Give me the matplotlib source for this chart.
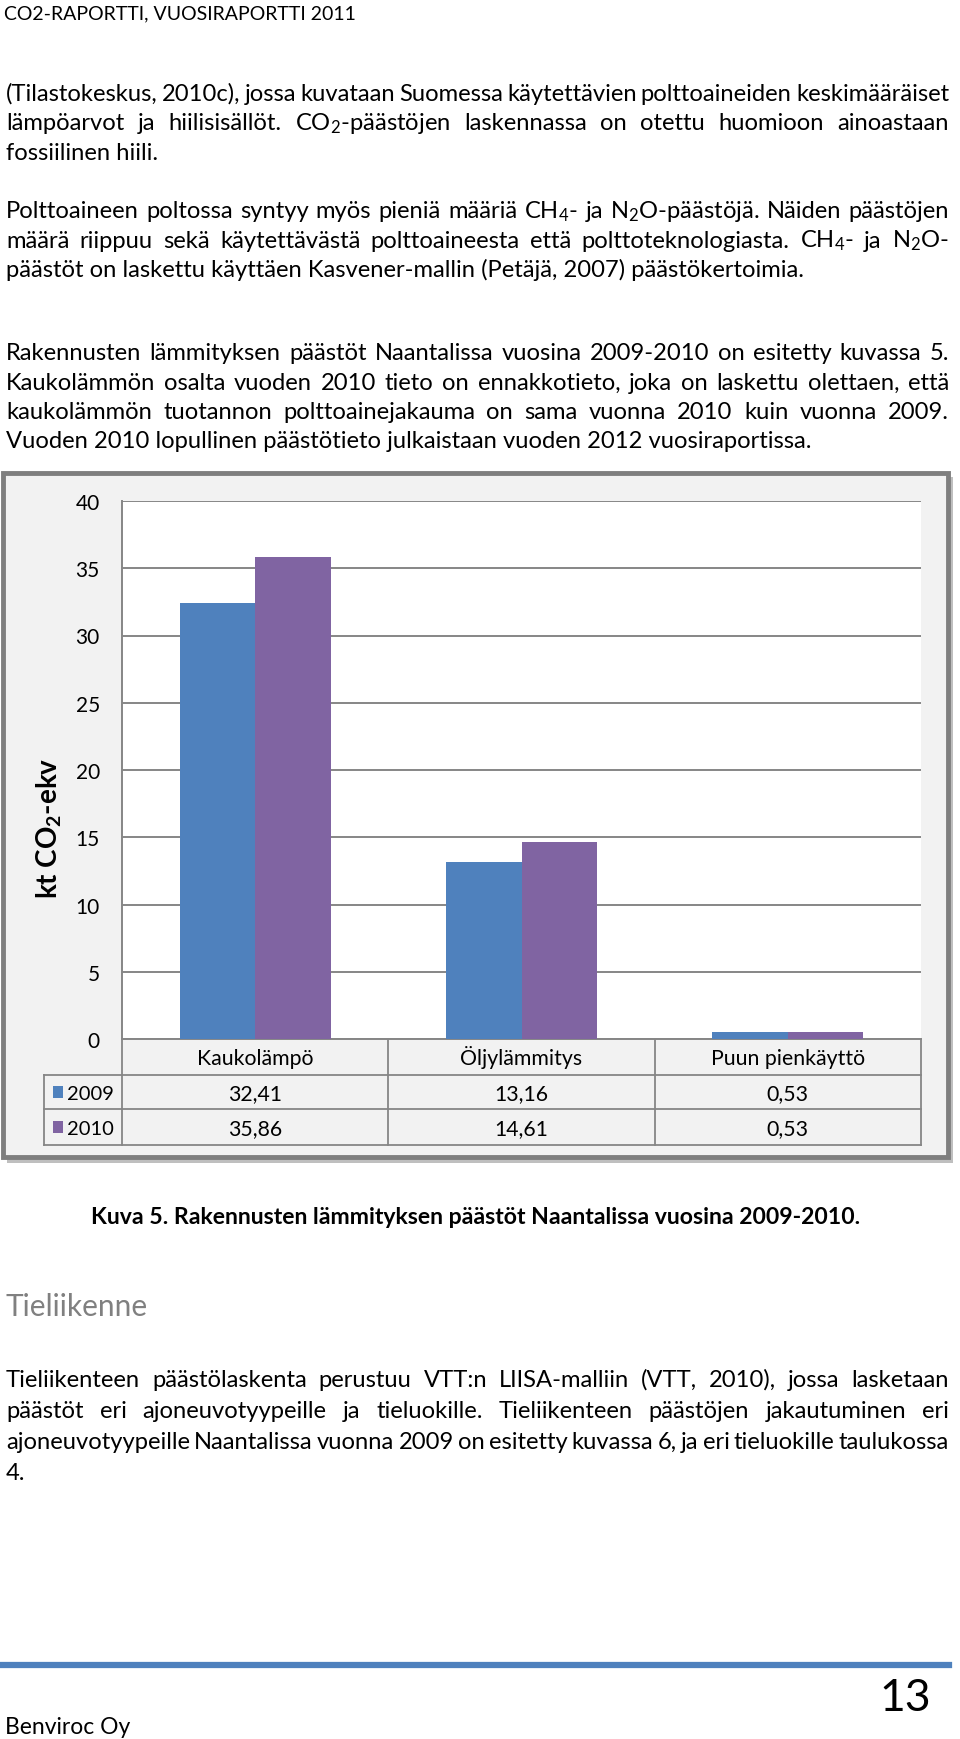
import matplotlib
matplotlib.use('Agg')
import matplotlib.pyplot as plt
import matplotlib.transforms as mtransforms
from matplotlib.patches import Rectangle
from matplotlib.lines import Line2D
import numpy as np

# data
categories = ['Kaukolämpö', 'Öljylämmitys', 'Puun pienkäyttö']
years = ['2009', '2010']
values_2009 = [32.41, 13.16, 0.53]
values_2010 = [35.86, 14.61, 0.53]
yticks = [0, 5, 10, 15, 20, 25, 30, 35, 40]
colors = ['#4F81BD', '#8064A2']

header = 'CO2-RAPORTTI, VUOSIRAPORTTI 2011'
para1 = [
    ('(Tilastokeskus, 2010c), jossa kuvataan Suomessa käytettävien polttoaineiden keskimääräiset', True),
    ('lämpöarvot ja hiilisisällöt. CO$_2$-päästöjen laskennassa on otettu huomioon ainoastaan', True),
    ('fossiilinen hiili.', False),
]
para2 = [
    ('Polttoaineen poltossa syntyy myös pieniä määriä CH$_4$- ja N$_2$O-päästöjä. Näiden päästöjen', True),
    ('määrä riippuu sekä käytettävästä polttoaineesta että polttoteknologiasta. CH$_4$- ja N$_2$O-', True),
    ('päästöt on laskettu käyttäen Kasvener-mallin (Petäjä, 2007) päästökertoimia.', False),
]
para3 = [
    ('Rakennusten lämmityksen päästöt Naantalissa vuosina 2009-2010 on esitetty kuvassa 5.', True),
    ('Kaukolämmön osalta vuoden 2010 tieto on ennakkotieto, joka on laskettu olettaen, että', True),
    ('kaukolämmön tuotannon polttoainejakauma on sama vuonna 2010 kuin vuonna 2009.', True),
    ('Vuoden 2010 lopullinen päästötieto julkaistaan vuoden 2012 vuosiraportissa.', False),
]
caption = 'Kuva 5. Rakennusten lämmityksen päästöt Naantalissa vuosina 2009-2010.'
heading = 'Tieliikenne'
para4 = [
    ('Tieliikenteen päästölaskenta perustuu VTT:n LIISA-malliin (VTT, 2010), jossa lasketaan', True),
    ('päästöt eri ajoneuvotyypeille ja tieluokille. Tieliikenteen päästöjen jakautuminen eri', True),
    ('ajoneuvotyypeille Naantalissa vuonna 2009 on esitetty kuvassa 6, ja eri tieluokille taulukossa', True),
    ('4.', False),
]

plt.rcParams['font.family'] = 'Lato'
plt.rcParams['mathtext.fontset'] = 'custom'
plt.rcParams['mathtext.rm'] = 'Lato'
plt.rcParams['mathtext.it'] = 'Lato:italic'
plt.rcParams['mathtext.bf'] = 'Lato:bold'

W, H = 960, 1740
fig = plt.figure(figsize=(W / 100, H / 100), dpi=100)
fig.patch.set_facecolor('white')
renderer = fig.canvas.get_renderer()


def fx(x):
    return x / W


def fy(y):
    return 1 - y / H


BODY = 17.1
X0, X1 = 6, 949


def put_line(y, text, justify, size=BODY):
    if not justify:
        fig.text(fx(X0), fy(y), text, fontsize=size, va='baseline')
        return
    words = text.split(' ')
    ts = [fig.text(0, fy(y), w, fontsize=size, va='baseline') for w in words]
    widths = [t.get_window_extent(renderer).width for t in ts]
    gap = (X1 - X0 - sum(widths)) / (len(words) - 1)
    x = X0
    for t, w in zip(ts, widths):
        t.set_x(fx(x))
        x += w + gap


def put_para(y0, lines, step=29.5):
    for i, (txt, j) in enumerate(lines):
        put_line(y0 + i * step, txt, j)


fig.text(fx(4), fy(19), header, fontsize=14, va='baseline')
put_para(101, para1)
put_para(218, para2)
put_para(360, para3)

# chart frame with shadow
fig.patches.append(Rectangle((fx(7), fy(1164)), fx(946), (1164 - 478) / H,
                             transform=fig.transFigure, facecolor='#BFBFBF',
                             edgecolor='none', zorder=0))
fig.patches.append(Rectangle((fx(3), fy(1158)), fx(945), (1158 - 474) / H,
                             transform=fig.transFigure, facecolor='#F2F2F2',
                             edgecolor='#7F7F7F', lw=3.5, zorder=1))

ax = fig.add_axes([fx(122), fy(1040), fx(921) - fx(122), (1040 - 502) / H])
ax.set_zorder(5)
ax.set_facecolor('white')
x = np.arange(len(categories))
bw = 0.283
ax.bar(x - bw / 2, values_2009, bw, color=colors[0], zorder=3)
ax.bar(x + bw / 2, values_2010, bw, color=colors[1], zorder=3)
ax.set_xlim(-0.5, 2.5)
ax.set_ylim(0, 40)
ax.set_yticks(yticks)
ax.set_yticklabels([str(v) for v in yticks], fontsize=15)
ax.set_xticks([])
ax.tick_params(axis='y', length=0, pad=16)
ax.yaxis.grid(True, color='#868686', lw=1.4)
ax.set_axisbelow(True)
for s in ['top', 'right']:
    ax.spines[s].set_visible(False)
for s in ['left', 'bottom']:
    ax.spines[s].set_color('#868686')
    ax.spines[s].set_linewidth(1.4)

ax.set_ylabel('kt CO$_\\mathbf{2}$-ekv', fontsize=20, fontweight='bold')
ax.yaxis.set_label_coords((64 - 122) / (921 - 122), (1040 - 828) / (1040 - 502))

# data table below the axis
tr = mtransforms.blended_transform_factory(ax.transData, fig.transFigure)
px_per_unit = ax.transData.transform((1, 0))[0] - ax.transData.transform((0, 0))[0]
left_data = -0.5 - (122 - 44) / px_per_unit
row_edges = [1040, 1076, 1110, 1146]
gcol = '#868686'
bounds = np.arange(len(categories) + 1) - 0.5
for b in bounds:
    fig.add_artist(Line2D([b, b], [fy(row_edges[0]), fy(row_edges[-1])], transform=tr,
                          color=gcol, lw=1.3))
fig.add_artist(Line2D([left_data, left_data], [fy(row_edges[1]), fy(row_edges[-1])],
                      transform=tr, color=gcol, lw=1.3))
for r in row_edges[1:]:
    fig.add_artist(Line2D([left_data, bounds[-1]], [fy(r), fy(r)], transform=tr,
                          color=gcol, lw=1.3))

TS = 15.3
for i, c in enumerate(categories):
    fig.text(x[i], fy((row_edges[0] + row_edges[1]) / 2 + 7), c, transform=tr,
             ha='center', va='baseline', fontsize=TS)
for k, (yr, vals) in enumerate(zip(years, [values_2009, values_2010])):
    ym = (row_edges[k + 1] + row_edges[k + 2]) / 2
    for i, v in enumerate(vals):
        fig.text(x[i], fy(ym + 7), f'{v:.2f}'.replace('.', ','), transform=tr,
                 ha='center', va='baseline', fontsize=TS)
    fig.text(fx(67), fy(ym + 7), yr, ha='left', va='baseline', fontsize=14.5)
    fig.patches.append(Rectangle((fx(53), fy(ym + 6)), fx(10), 12 / H,
                                 transform=fig.transFigure, facecolor=colors[k],
                                 edgecolor='none', zorder=5))

fig.text(0.5 * (fx(91) + fx(860)), fy(1224), caption, ha='center', va='baseline',
         fontsize=16.6, fontweight='bold')
fig.text(fx(5), fy(1316), heading, va='baseline', fontsize=21.5, color='#808080')
put_para(1387, para4, step=31)

fig.add_artist(Line2D([fx(3), fx(949)], [fy(1666), fy(1666)], color='#4F81BD', lw=4.5))
fig.text(fx(931), fy(1711), '13', ha='right', va='baseline', fontsize=32)
fig.text(fx(5), fy(1734), 'Benviroc Oy', va='baseline', fontsize=16.5)

fig.savefig('out.png', dpi=100)
